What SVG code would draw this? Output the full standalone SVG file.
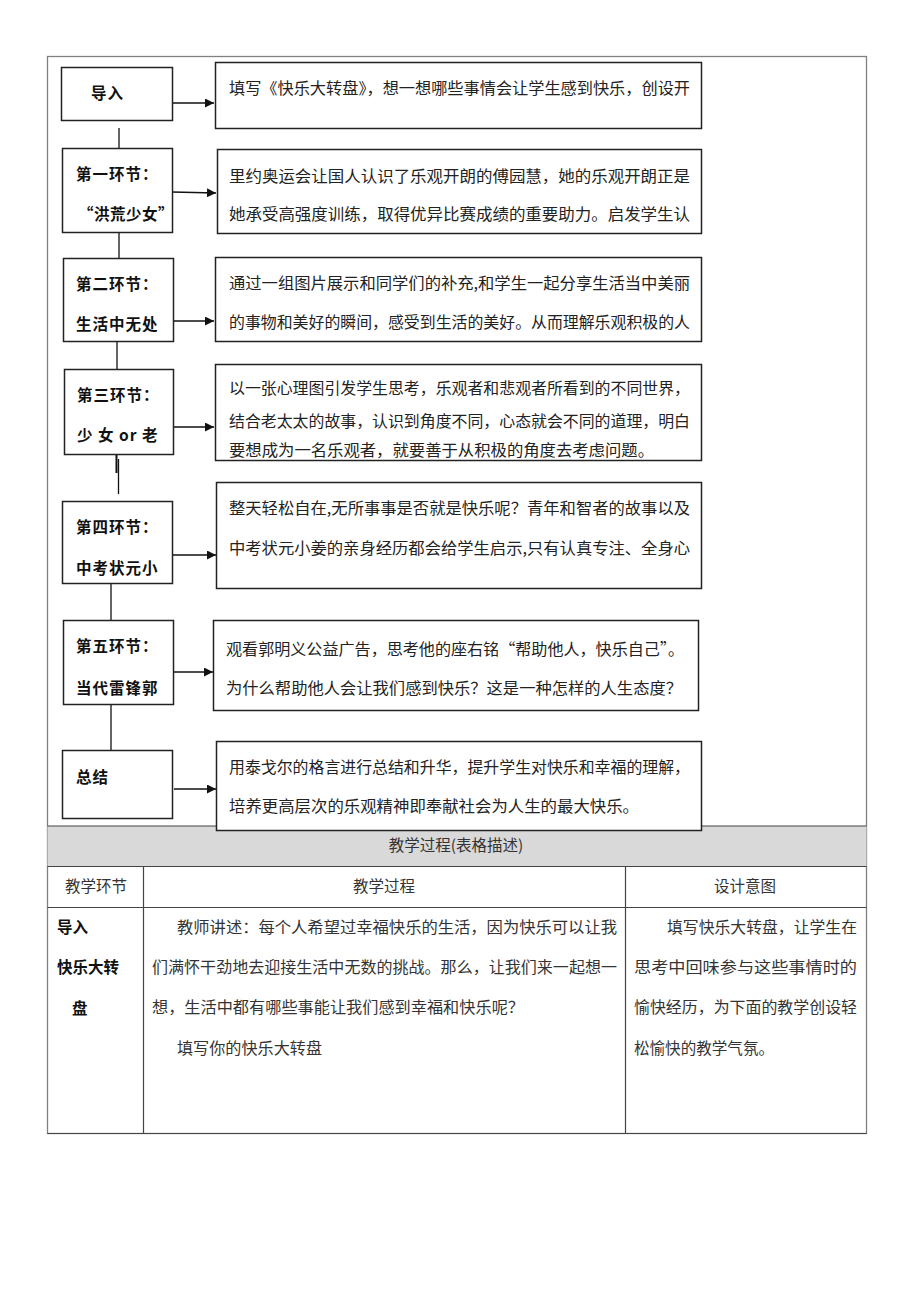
<svg xmlns="http://www.w3.org/2000/svg" width="920" height="1302" viewBox="0 0 920 1302">
<style>
.box{fill:#fff;stroke:#222;stroke-width:1.5}
.conn line{stroke:#111;stroke-width:1.3}
.t{font-family:"Noto Sans CJK SC","Liberation Serif",sans-serif;font-size:15.5px;fill:#222}
.lb{font-family:"Noto Sans CJK SC","Liberation Sans",sans-serif;font-size:15.5px;font-weight:bold;fill:#111;letter-spacing:1px}
.tb{font-family:"Noto Sans CJK SC","Liberation Sans",sans-serif;font-size:15.5px;fill:#333}
.grid{stroke:#444;stroke-width:1.2;fill:none}
</style>
<defs>
<marker id="ah" viewBox="0 0 10 10" refX="10" refY="5" markerWidth="9" markerHeight="9" markerUnits="userSpaceOnUse" orient="auto">
<path d="M0,0 L10,5 L0,10 z" fill="#111"/>
</marker>
<clipPath id="c4"><rect x="215" y="364" width="487" height="95"/></clipPath>
</defs>
<rect x="0" y="0" width="920" height="1302" fill="#fff"/>
<rect x="47.5" y="56.5" width="819" height="1077" fill="none" stroke="#808080" stroke-width="1.3"/>
<g id="table">
<rect x="47.5" y="826" width="819" height="40" fill="#d9d9d9"/>
<line class="grid" x1="47.5" y1="826" x2="866.5" y2="826"/>
<line class="grid" x1="47.5" y1="866.5" x2="866.5" y2="866.5"/>
<line class="grid" x1="47.5" y1="907.5" x2="866.5" y2="907.5"/>
<line class="grid" x1="47.5" y1="1133.5" x2="866.5" y2="1133.5"/>
<line class="grid" x1="143.5" y1="866.5" x2="143.5" y2="1133.5"/>
<line class="grid" x1="625.5" y1="866.5" x2="625.5" y2="1133.5"/>
<text class="tb" x="456" y="851" text-anchor="middle">教学过程(表格描述)</text>
<text class="tb" x="96" y="892" text-anchor="middle">教学环节</text>
<text class="tb" x="384" y="892" text-anchor="middle">教学过程</text>
<text class="tb" x="745" y="892" text-anchor="middle">设计意图</text>
<text class="lb" x="57" y="933" style="letter-spacing:0">导入</text>
<text class="lb" x="57" y="973" style="letter-spacing:0">快乐大转</text>
<text class="lb" x="72" y="1014" style="letter-spacing:0">盘</text>
<text class="tb" x="177" y="933" textLength="440" lengthAdjust="spacingAndGlyphs">教师讲述：每个人希望过幸福快乐的生活，因为快乐可以让我</text>
<text class="tb" x="152" y="973" textLength="465" lengthAdjust="spacingAndGlyphs">们满怀干劲地去迎接生活中无数的挑战。那么，让我们来一起想一</text>
<text class="tb" x="152" y="1013" textLength="372" lengthAdjust="spacingAndGlyphs">想，生活中都有哪些事能让我们感到幸福和快乐呢？</text>
<text class="tb" x="177" y="1054" textLength="145" lengthAdjust="spacingAndGlyphs">填写你的快乐大转盘</text>
<text class="tb" x="667" y="933" textLength="190" lengthAdjust="spacingAndGlyphs">填写快乐大转盘，让学生在</text>
<text class="tb" x="634" y="973" textLength="223" lengthAdjust="spacingAndGlyphs">思考中回味参与这些事情时的</text>
<text class="tb" x="634" y="1013" textLength="223" lengthAdjust="spacingAndGlyphs">愉快经历，为下面的教学创设轻</text>
<text class="tb" x="634" y="1054" textLength="140" lengthAdjust="spacingAndGlyphs">松愉快的教学气氛。</text>
</g>
<g id="connectors" class="conn">
<line x1="119" y1="128" x2="119" y2="148"/>
<line x1="119" y1="232" x2="119" y2="258"/>
<line x1="117" y1="341" x2="117" y2="369"/>
<line x1="116.5" y1="454" x2="116.5" y2="473" style="stroke-width:2"/>
<line x1="118.5" y1="459" x2="118.5" y2="494"/>
<line x1="111" y1="583" x2="111" y2="620"/>
<line x1="111" y1="704" x2="111" y2="750"/>
<line x1="172" y1="103" x2="214" y2="103" marker-end="url(#ah)"/>
<line x1="172" y1="192" x2="216" y2="193" marker-end="url(#ah)"/>
<line x1="173" y1="321" x2="214" y2="321" marker-end="url(#ah)"/>
<line x1="173" y1="427" x2="214" y2="427" marker-end="url(#ah)"/>
<line x1="172" y1="555" x2="216" y2="555" marker-end="url(#ah)"/>
<line x1="173" y1="672" x2="213" y2="672" marker-end="url(#ah)"/>
<line x1="174" y1="789" x2="216" y2="789" marker-end="url(#ah)"/>
</g>
<g id="n0"><rect class="box" x="61.5" y="67.5" width="111" height="53"/><text class="lb" x="91" y="99">导入</text></g>
<g id="n1"><rect class="box" x="62.5" y="148.5" width="110" height="84"/><text class="lb" x="76" y="180">第一环节：</text><text class="lb" x="78" y="220" style="letter-spacing:0.5px">“洪荒少女”</text></g>
<g id="n2"><rect class="box" x="63.5" y="258.5" width="110" height="83"/><text class="lb" x="76" y="290">第二环节：</text><text class="lb" x="76" y="330">生活中无处</text></g>
<g id="n3"><rect class="box" x="64.5" y="369.5" width="109" height="85"/><text class="lb" x="77" y="401">第三环节：</text><text class="lb" x="77" y="441" xml:space="preserve">少 女 or 老</text></g>
<g id="n4"><rect class="box" x="62.5" y="501.5" width="110" height="82"/><text class="lb" x="76" y="533">第四环节：</text><text class="lb" x="76" y="574">中考状元小</text></g>
<g id="n5"><rect class="box" x="63.5" y="620.5" width="110" height="84"/><text class="lb" x="76" y="652">第五环节：</text><text class="lb" x="76" y="694">当代雷锋郭</text></g>
<g id="n6"><rect class="box" x="62.5" y="750.5" width="110" height="68"/><text class="lb" x="76" y="783">总结</text></g>
<g id="r0"><rect class="box" x="215.5" y="62.5" width="486" height="66"/><text class="t" x="229" y="94" textLength="461" lengthAdjust="spacingAndGlyphs">填写《快乐大转盘》，想一想哪些事情会让学生感到快乐，创设开</text></g>
<g id="r1"><rect class="box" x="217.5" y="149.5" width="484" height="84"/><text class="t" x="229" y="182" textLength="461" lengthAdjust="spacingAndGlyphs">里约奥运会让国人认识了乐观开朗的傅园慧，她的乐观开朗正是</text><text class="t" x="229" y="220" textLength="461" lengthAdjust="spacingAndGlyphs">她承受高强度训练，取得优异比赛成绩的重要助力。启发学生认</text></g>
<g id="r2"><rect class="box" x="215.5" y="257.5" width="486" height="84"/><text class="t" x="229" y="289" textLength="461" lengthAdjust="spacingAndGlyphs">通过一组图片展示和同学们的补充,和学生一起分享生活当中美丽</text><text class="t" x="229" y="328" textLength="461" lengthAdjust="spacingAndGlyphs">的事物和美好的瞬间，感受到生活的美好。从而理解乐观积极的人</text></g>
<g id="r3"><rect class="box" x="215.5" y="364.5" width="486" height="96"/><text class="t" x="229" y="394" textLength="461" lengthAdjust="spacingAndGlyphs">以一张心理图引发学生思考，乐观者和悲观者所看到的不同世界，</text><text class="t" x="229" y="427" textLength="461" lengthAdjust="spacingAndGlyphs">结合老太太的故事，认识到角度不同，心态就会不同的道理，明白</text><text class="t" x="229" y="456" textLength="425" lengthAdjust="spacingAndGlyphs" clip-path="url(#c4)">要想成为一名乐观者，就要善于从积极的角度去考虑问题。</text></g>
<g id="r4"><rect class="box" x="216.5" y="482.5" width="485" height="106"/><text class="t" x="229" y="514" textLength="461" lengthAdjust="spacingAndGlyphs">整天轻松自在,无所事事是否就是快乐呢？青年和智者的故事以及</text><text class="t" x="229" y="554" textLength="461" lengthAdjust="spacingAndGlyphs">中考状元小姜的亲身经历都会给学生启示,只有认真专注、全身心</text></g>
<g id="r5"><rect class="box" x="213.5" y="620.5" width="485" height="90"/><text class="t" x="226" y="655" textLength="458" lengthAdjust="spacingAndGlyphs">观看郭明义公益广告，思考他的座右铭“帮助他人，快乐自己”。</text><text class="t" x="226" y="694" textLength="456" lengthAdjust="spacingAndGlyphs">为什么帮助他人会让我们感到快乐？这是一种怎样的人生态度？</text></g>
<g id="r6"><rect class="box" x="216.5" y="741.5" width="485" height="89"/><text class="t" x="229" y="773" textLength="461" lengthAdjust="spacingAndGlyphs">用泰戈尔的格言进行总结和升华，提升学生对快乐和幸福的理解，</text><text class="t" x="229" y="812" textLength="410" lengthAdjust="spacingAndGlyphs">培养更高层次的乐观精神即奉献社会为人生的最大快乐。</text></g>
</svg>
